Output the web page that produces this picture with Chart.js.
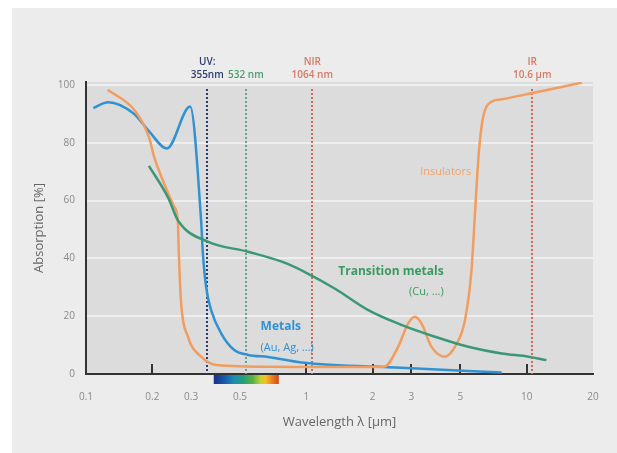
<!DOCTYPE html>
<html lang="en">
  <head>
    <meta charset="UTF-8" />
    <title>Absorption vs wavelength</title>
    <script src="https://cdn.jsdelivr.net/npm/chart.js"></script>
    <style>
      body { margin: 0; background: #fff; }
      .chart-box { width: 617px; height: 453px; }
    </style>
  </head>
  <body>
    <div class="chart-box"><canvas id="absChart"></canvas></div>

    <script>
      // wavelength in µm, absorption in %
      const metalsLambda = [0.108, 0.126, 0.165, 0.193, 0.233, 0.297, 0.333, 0.339, 0.351, 0.37, 0.411, 0.471, 0.545, 0.672, 0.95, 2.7, 7.7];
      const metalsAbs = [92, 94, 90, 84, 78, 92.5, 53, 42, 30, 22, 14, 8.3, 6.6, 5.9, 4, 2.2, 0.5];

      const insulatorsLambda = [0.1254, 0.1657, 0.193, 0.204, 0.226, 0.251, 0.261, 0.2637, 0.27, 0.29, 0.333, 0.397, 0.7, 1.5, 2.0, 2.27, 2.61, 2.9, 3.11, 3.33, 3.7, 4.25, 4.72, 5.25, 5.62, 5.8, 6.03, 6.24, 6.47, 6.93, 7.7, 10.5, 17.8];
      const insulatorsAbs = [98.3, 91.3, 82, 75, 66, 58, 53, 42, 25, 13, 6, 3, 2.5, 2.4, 2.4, 2.6, 9.4, 17.5, 19.8, 17.5, 9.4, 6, 9.4, 18.7, 36, 53, 74, 85.6, 91.3, 94.2, 95, 97.1, 100.8];

      const transitionLambda = [0.193, 0.236, 0.262, 0.357, 0.543, 0.796, 1.0, 1.35, 1.91, 2.7, 3.83, 5.43, 7.7, 10.2, 12.3];
      const transitionAbs = [72, 61, 53, 45.8, 42.3, 38.5, 35, 29.5, 22.1, 17, 12.9, 9.4, 7.1, 6, 4.8];

      const xTickValues = [0.1, 0.2, 0.3, 0.5, 1, 2, 3, 5, 10, 20];
      const xTickMarks = [0.2, 1, 2, 3, 5, 10];
      const yTickValues = [0, 20, 40, 60, 80, 100];

      // laser lines
      const markerLambda = [0.355, 0.532, 1.064, 10.6];
      const markerTop = ["UV:", "", "NIR", "IR"];
      const markerBottom = ["355nm", "532 nm", "1064 nm", "10.6 µm"];
      const markerColors = ["#2c3c6c", "#5fa886", "#d8694e", "#d8694e"];
      const markerTextColors = ["#2c3c6c", "#4c9c6c", "#d57a66", "#d57a66"];

      const visibleRange = [0.38, 0.75];

      const toPoints = (xs, ys) => xs.map((x, i) => ({ x: x, y: ys[i] }));

      const BLUE = "#3192d2";
      const ORANGE = "#f29d60";
      const GREEN = "#3a9874";

      const decorPlugin = {
        id: "decor",
        beforeDraw(chart) {
          const { ctx, chartArea } = chart;
          ctx.save();
          ctx.fillStyle = "#ffffff";
          ctx.fillRect(0, 0, chart.width, chart.height);
          ctx.fillStyle = "#ececec";
          ctx.fillRect(12, 8, chart.width - 12, chart.height - 8);
          ctx.fillStyle = "#dcdcdc";
          ctx.fillRect(chartArea.left, chartArea.top, chartArea.right - chartArea.left, chartArea.bottom - chartArea.top);
          ctx.restore();
        },
        beforeDatasetsDraw(chart) {
          const { ctx, chartArea, scales } = chart;
          const xs = scales.x;
          ctx.save();
          // laser wavelength lines
          ctx.lineWidth = 2;
          ctx.setLineDash([2, 2]);
          markerLambda.forEach((l, i) => {
            const px = Math.round(xs.getPixelForValue(l));
            ctx.strokeStyle = markerColors[i];
            ctx.beginPath();
            ctx.moveTo(px, chartArea.top + 7);
            ctx.lineTo(px, chartArea.bottom);
            ctx.stroke();
          });
          ctx.setLineDash([]);
          // small tick marks on the axis
          ctx.strokeStyle = "#333";
          ctx.lineWidth = 2;
          xTickMarks.forEach((v) => {
            const px = Math.round(xs.getPixelForValue(v));
            ctx.beginPath();
            ctx.moveTo(px, chartArea.bottom - 10);
            ctx.lineTo(px, chartArea.bottom);
            ctx.stroke();
          });
          // visible spectrum bar
          const x0 = xs.getPixelForValue(visibleRange[0]);
          const x1 = xs.getPixelForValue(visibleRange[1]);
          const g = ctx.createLinearGradient(x0, 0, x1, 0);
          g.addColorStop(0, "#1b2f86");
          g.addColorStop(0.15, "#1656a8");
          g.addColorStop(0.3, "#1a8ab0");
          g.addColorStop(0.45, "#24a07a");
          g.addColorStop(0.6, "#56b044");
          g.addColorStop(0.72, "#c8d030");
          g.addColorStop(0.8, "#f4c020");
          g.addColorStop(0.9, "#ee7a20");
          g.addColorStop(1, "#d24a1e");
          ctx.fillStyle = g;
          ctx.fillRect(x0, chartArea.bottom + 1, x1 - x0, 9);
          ctx.restore();
        },
        afterDatasetsDraw(chart) {
          const { ctx, scales } = chart;
          const xs = scales.x;
          const ys = scales.y;
          ctx.save();
          ctx.textAlign = "center";
          ctx.textBaseline = "middle";
          ctx.font = "600 10px 'Open Sans', sans-serif";
          markerLambda.forEach((l, i) => {
            const px = xs.getPixelForValue(l);
            ctx.fillStyle = markerTextColors[i];
            if (markerTop[i]) ctx.fillText(markerTop[i], px, 62);
            ctx.fillText(markerBottom[i], px, 75);
          });

          const txt = (s, lx, ly, color, font, align) => {
            ctx.font = font;
            ctx.fillStyle = color;
            ctx.textAlign = align;
            ctx.fillText(s, xs.getPixelForValue(lx), ys.getPixelForValue(ly));
          };
          txt("Insulators", 5.6, 70, "#f3a46a", "11px 'Open Sans', sans-serif", "right");
          txt("Transition metals", 4.2, 35.3, "#3a9a62", "bold 12px 'Open Sans', sans-serif", "right");
          txt("(Cu, ...)", 4.2, 28.4, "#3a9a62", "11px 'Open Sans', sans-serif", "right");
          txt("Metals", 0.62, 16.3, "#2f92d4", "bold 12px 'Open Sans', sans-serif", "left");
          txt("(Au, Ag, ...)", 0.62, 9, "#2f92d4", "11px 'Open Sans', sans-serif", "left");
          ctx.restore();
        },
      };

      const lineStyle = (color) => ({
        borderColor: color,
        backgroundColor: color,
        borderWidth: 2.5,
        pointRadius: 0,
        fill: false,
        cubicInterpolationMode: "monotone",
      });

      new Chart(document.getElementById("absChart"), {
        type: "line",
        data: {
          datasets: [
            { label: "Transition metals", data: toPoints(transitionLambda, transitionAbs), ...lineStyle(GREEN) },
            { label: "Insulators", data: toPoints(insulatorsLambda, insulatorsAbs), ...lineStyle(ORANGE) },
            { label: "Metals", data: toPoints(metalsLambda, metalsAbs), ...lineStyle(BLUE) },
          ],
        },
        options: {
          responsive: true,
          maintainAspectRatio: false,
          animation: false,
          layout: { padding: { top: 82, right: 24, left: 0, bottom: 0 } },
          plugins: { legend: { display: false }, tooltip: { enabled: false } },
          scales: {
            x: {
              type: "logarithmic",
              min: 0.1,
              max: 20,
              afterBuildTicks: (scale) => {
                scale.ticks = xTickValues.map((v) => ({ value: v }));
              },
              afterFit: (scale) => {
                scale.height = 79;
              },
              grid: { display: false, drawTicks: false },
              border: { display: true, color: "#333", width: 2 },
              ticks: {
                autoSkip: false,
                maxRotation: 0,
                padding: 17,
                color: "#8a8a8a",
                font: { size: 10, family: "'Open Sans', sans-serif" },
                callback: (v) => String(v),
              },
              title: {
                display: true,
                text: "Wavelength λ [µm]",
                color: "#666",
                font: { size: 13, family: "'Open Sans', sans-serif" },
                padding: { top: 0, bottom: 23 },
              },
            },
            y: {
              min: 0,
              max: 101,
              afterBuildTicks: (scale) => {
                scale.ticks = yTickValues.map((v) => ({ value: v }));
              },
              afterFit: (scale) => {
                scale.width = 86;
              },
              grid: { color: "rgba(255,255,255,0.5)", lineWidth: 2, drawTicks: false },
              border: { display: true, color: "#333", width: 2 },
              ticks: {
                padding: 11,
                color: "#8a8a8a",
                font: { size: 10, family: "'Open Sans', sans-serif" },
              },
              title: {
                display: true,
                text: "Absorption [%]",
                color: "#666",
                font: { size: 13, family: "'Open Sans', sans-serif" },
                padding: { top: 31, bottom: 0 },
              },
            },
          },
        },
        plugins: [decorPlugin],
      });
    </script>
  </body>
</html>
